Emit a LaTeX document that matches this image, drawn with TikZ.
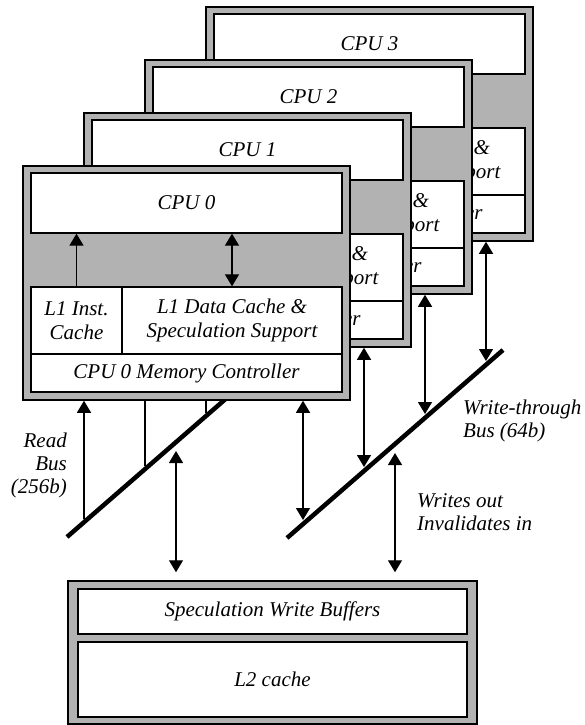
\documentclass[tikz,border=0pt]{standalone}
\usepackage{fontspec}
\setmainfont{Liberation Serif}
\usetikzlibrary{arrows.meta}
\definecolor{cachegray}{gray}{0.7}
\pgfdeclarelayer{background}
\pgfsetlayers{background,main}

\begin{document}
\begin{tikzpicture}[x=1pt, y=-1pt,
    txt/.style={font=\fontsize{21}{24}\selectfont\itshape, align=center},
    frame/.style={draw=black, fill=cachegray, line width=1.5pt},
    unit/.style={draw=black, fill=white, line width=1.3pt, inner sep=0pt, txt},
    arr/.style={line width=1.2pt, -{Triangle[length=12pt,width=14pt]}},
    darr/.style={line width=1.2pt, {Triangle[length=12pt,width=14pt]}-{Triangle[length=12pt,width=14pt]}},
    bus/.style={line width=4.5pt},
    lbl/.style={inner sep=0pt, font=\fontsize{21}{23}\selectfont\itshape}]
    \useasboundingbox (0,0) rectangle (585,725);

    \foreach \i in {3,2,1,0} {
    \begin{scope}[shift={(61*\i,-53*\i)}]
        \node[frame, minimum width=327pt, minimum height=234pt] at (186.5,283) (box\i) {};
        \node[unit, minimum width=311pt, minimum height=60pt] at (186.5,203) (cpu\i) {CPU \i};
        \node[unit, minimum width=91pt, minimum height=67pt] at (76.5,320.5) (li\i) {L1 Inst.\\Cache};
        \node[unit, minimum width=220pt, minimum height=67pt] at (232,320.5) (ld\i) {L1 Data Cache \&\\Speculation Support};
        \node[unit, minimum width=311pt, minimum height=38pt] at (186.5,373) (mc\i) {CPU \i\ Memory Controller};
        \draw[arr] (li\i.north) -- (li\i.north |- cpu\i.south);
        \draw[darr] (ld\i.north) -- (ld\i.north |- cpu\i.south);
        \coordinate (rd\i) at (84,522);
        \coordinate (wr\i) at (303,524);
        \begin{pgfonlayer}{background}
            \draw[arr, shorten <=3pt] (rd\i) -- (rd\i |- box\i.south);
            \draw[darr, shorten >=4pt] (box\i.south -| wr\i) -- (wr\i);
        \end{pgfonlayer}
    \end{scope}
    }

    \coordinate (rbA) at (67,537);
    \coordinate (rbB) at (283,349);
    \coordinate (wbA) at (287,538);
    \coordinate (wbB) at (503,350);
    \begin{pgfonlayer}{background}
        \draw[bus] (rbA) -- (rbB);
        \draw[bus] (wbA) -- (wbB);
    \end{pgfonlayer}

    \node[frame, minimum width=409pt, minimum height=143pt] at (272.5,652.5) (l2) {};
    \node[unit, minimum width=389pt, minimum height=45pt] at (272.5,611.5) (swb) {Speculation Write Buffers};
    \node[unit, minimum width=389pt, minimum height=75pt] at (272.5,679.5) (l2c) {L2 cache};

    \coordinate (rl2) at (176,442);
    \coordinate (wl2) at (395,444);
    \draw[darr, shorten <=9pt, shorten >=8pt] (rl2) -- (rl2 |- l2.north);
    \draw[darr, shorten <=9pt, shorten >=8pt] (wl2) -- (wl2 |- l2.north);

    \node[lbl, anchor=east, align=right] at (67,465) (rdlbl) {Read\\Bus\\(256b)};
    \node[lbl, anchor=west, align=left] at (463,421) (wrlbl) {Write-through\\Bus (64b)};
    \node[lbl, anchor=west, align=left] at (417,512) (invlbl) {Writes out\\Invalidates in};
\end{tikzpicture}
\end{document}
